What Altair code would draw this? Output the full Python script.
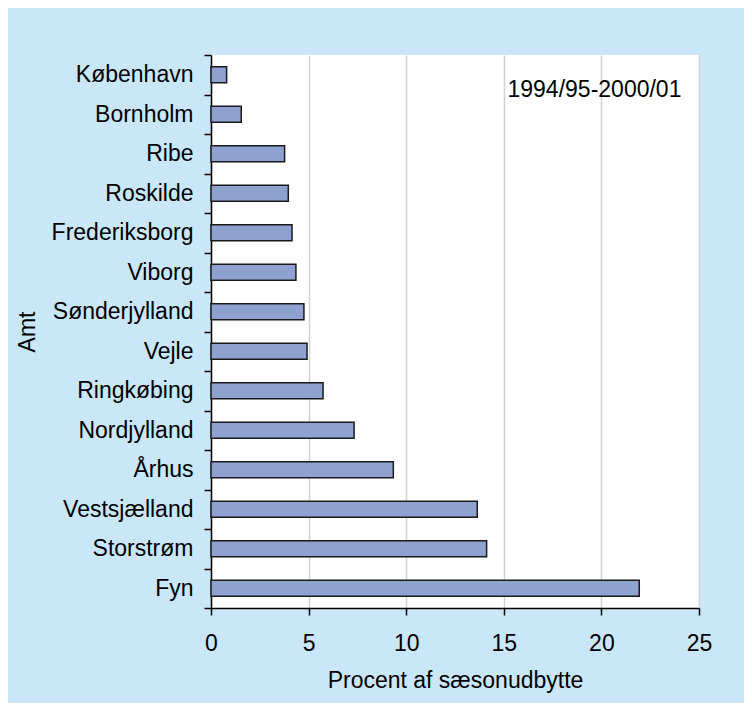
import altair as alt
import pandas as pd

categories = ["København", "Bornholm", "Ribe", "Roskilde", "Frederiksborg", "Viborg",
              "Sønderjylland", "Vejle", "Ringkøbing", "Nordjylland", "Århus",
              "Vestsjælland", "Storstrøm", "Fyn"]
values = [0.8, 1.55, 3.77, 3.96, 4.15, 4.35, 4.76, 4.92, 5.74, 7.33, 9.34, 13.64, 14.12, 21.94]
x_ticks = [0, 5, 10, 15, 20, 25]
period_label = "1994/95-2000/01"

df = pd.DataFrame({"Amt": categories, "Procent": values})
FONT = "Liberation Sans"
FS = 23

y_enc = alt.Y("Amt:N", sort=categories,
              scale=alt.Scale(paddingInner=0, paddingOuter=0),
              axis=alt.Axis(title="Amt", tickBand="extent", tickSize=7, tickColor="black",
                            tickWidth=1.5, domainColor="black", domainWidth=1.5,
                            labelFontSize=FS, labelFont=FONT, labelColor="black",
                            labelPadding=11, titleFont=FONT, titleFontSize=FS,
                            titleFontWeight="normal", titleColor="black", titlePadding=12,
                            grid=False))

bars = alt.Chart(df).mark_bar(size=16, fill="#8fa2cf", stroke="#1a1a1a", strokeWidth=1.5).encode(
    x=alt.X("Procent:Q", scale=alt.Scale(domain=[0, 25], nice=False),
            axis=alt.Axis(title="Procent af sæsonudbytte", values=x_ticks, tickSize=7,
                          tickColor="black", tickWidth=1.5, domainColor="black", domainWidth=1.5,
                          labelFontSize=FS, labelFont=FONT, labelColor="black", labelPadding=17,
                          labelFlush=False,
                          titleFont=FONT, titleFontSize=FS, titleFontWeight="normal",
                          titleColor="black", titlePadding=14,
                          grid=True, gridColor="#d2d2d2", gridWidth=1.5)),
    y=y_enc,
)

note = alt.Chart(pd.DataFrame({"t": [period_label]})).mark_text(
    align="right", baseline="middle", fontSize=FS, font=FONT, color="black", dy=15
).encode(
    x=alt.datum(24.1),
    y=alt.datum(categories[0]),
    text="t:N",
)

chart = alt.layer(bars, note).properties(
    width=488, height=553,
    background="#c9e7f9",
    padding={"left": 203, "top": 47, "right": 45, "bottom": 95},
    autosize=alt.AutoSizeParams(type="none"),
).configure_view(stroke=None, fill="white")

chart.save("out.html", embed_options={"renderer": "svg", "actions": False})
